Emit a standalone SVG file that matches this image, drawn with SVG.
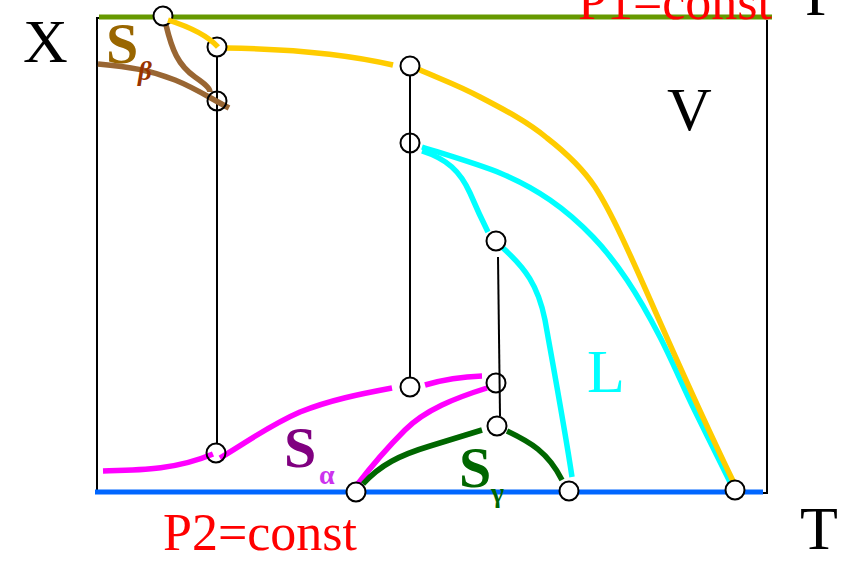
<svg xmlns="http://www.w3.org/2000/svg" width="846" height="562" viewBox="0 0 846 562">
<style>
.t{font-family:"Liberation Serif","Times New Roman",serif}
.big{font-size:62px;fill:#000}
.red{font-size:52px;fill:#ff0000}
.S{font-size:58px;font-weight:bold}
.sub{font-weight:bold}
.c{fill:#fff;stroke:#000;stroke-width:2}
.co{fill:none;stroke:#000;stroke-width:2}
.vl{stroke:#000;stroke-width:2;fill:none}
.ln{fill:none;stroke-width:5.5;stroke-linecap:butt}
</style>
<rect width="846" height="562" fill="#fff"/>
<g id="frame">
<path d="M101,18 H97 V493" fill="none" stroke="#000" stroke-width="2"/>
<path d="M767,20 V493 H760" fill="none" stroke="#000" stroke-width="2"/>
<line x1="99" y1="17" x2="772" y2="17" stroke="#669900" stroke-width="5"/>
<line x1="95" y1="492" x2="763" y2="492" stroke="#0066ff" stroke-width="5"/>
</g>
<g id="labels" class="t">
<text class="big" x="23" y="62">X</text>
<text class="big" x="805" y="15">P</text>
<text class="big" x="800" y="549">T</text>
<text class="big" x="667" y="130">V</text>
<text class="big" x="587" y="392" style="fill:#00ffff">L</text>
<text class="red" x="578" y="19">P1=const</text>
<text class="red" x="163" y="550">P2=const</text>
</g>
<g id="connectors">
<line class="vl" x1="217" y1="57" x2="217" y2="443"/>
<line class="vl" x1="410" y1="76" x2="410" y2="377"/>
<line class="vl" x1="498" y1="257" x2="500" y2="416"/>
<path class="ln" stroke="#996633" d="M98,64 C130,67 150,70 175,80 C195,88 210,98 229,108"/>
<path class="ln" stroke="#996633" d="M166,25 C172,50 178,65 195,77 C205,84 210,88 210,92"/>
<path class="ln" stroke="#00ffff" d="M422,147 C435,151.3 478.7,164.2 500,173 C521.3,181.8 534.5,189.3 550,200 C565.5,210.7 580.2,223.7 593,237 C605.8,250.3 615.8,263.3 627,280 C638.2,296.7 649,315.8 660,337 C671,358.2 681.3,382.8 693,407 C704.7,431.2 723.8,469.5 730,482"/>
<path class="ln" stroke="#00ffff" d="M422,151 C447,159 460,171 470,193 C476,207 482,220 488,232"/>
<path class="ln" stroke="#00ffff" d="M503,248 C525,268 538,285 545,320 C553,365 565,430 572,477"/>
<path class="ln" stroke="#ffcc00" d="M418,69 C440,79 458,85 480,97 C505,110 528,122 547,138 C565,152 583,169 595,187 C625,233 660,330 734,483"/>
<path class="ln" stroke="#ffcc00" d="M226,48 C300,49 350,55 393,65"/>
<path class="ln" stroke="#ff00ff" d="M103,471 C140,470 175,470 213,454"/>
<path class="ln" stroke="#ff00ff" d="M220,458 C250,440 270,425 300,412 C330,400 360,394 392,388"/>
<path class="ln" stroke="#ff00ff" d="M425,385 Q452,377 482,376"/>
<path class="ln" stroke="#ff00ff" d="M487,388 C455,398 425,410 405,430 C385,450 370,468 357,485"/>
<path class="ln" stroke="#006600" d="M363,484 C380,465 400,455 430,446 L482,430"/>
<path class="ln" stroke="#006600" d="M507,431 C530,442 548,452 562,480"/>
</g>
<g id="n1"><circle class="c" cx="163" cy="16" r="9.5"/></g>
<g id="n2"><circle class="c" cx="217" cy="47" r="9.5"/></g>
<path class="ln" stroke="#ffcc00" d="M168,20 C190,27 208,36 218,47"/>
<g id="n3"><circle class="co" cx="217" cy="101" r="9.5"/></g>
<g id="n4"><circle class="c" cx="410" cy="66" r="9.5"/></g>
<g id="n5"><circle class="co" cx="410" cy="143" r="9.5"/></g>
<g id="n6"><circle class="c" cx="496" cy="241" r="9.5"/></g>
<g id="n7"><circle class="c" cx="410" cy="387" r="9.5"/></g>
<g id="n8"><circle class="co" cx="496" cy="383" r="9.5"/></g>
<g id="n9"><circle class="c" cx="497" cy="426" r="9.5"/></g>
<g id="n10"><circle class="co" cx="216" cy="453" r="9.5"/></g>
<g id="n11"><circle class="c" cx="356" cy="492" r="9.5"/></g>
<g id="n12"><circle class="c" cx="569" cy="491" r="9.5"/></g>
<g id="n13"><circle class="c" cx="735" cy="490" r="9.5"/></g>
<g id="phase-labels" class="t">
<text class="S" x="106" y="63" fill="#996600">S</text>
<text class="sub" x="138" y="80" font-size="27" font-style="italic" fill="#993300">β</text>
<text class="S" x="284" y="467" fill="#800080">S</text>
<text class="sub" x="319" y="484" font-size="28" fill="#cc33ee">α</text>
<text class="S" x="459" y="487" fill="#006600">S</text>
<text class="sub" x="491" y="502" font-size="28" fill="#006600">γ</text>
</g>
</svg>
